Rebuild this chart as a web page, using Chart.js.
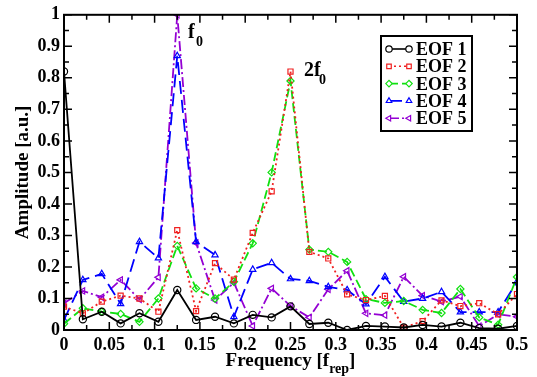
<!DOCTYPE html>
<html lang="en">
<head>
    <meta charset="UTF-8">
    <title>EOF spectra</title>
    <script src="https://cdn.jsdelivr.net/npm/chart.js@4.4.1/dist/chart.umd.min.js"></script>
    <style>
        html, body { margin: 0; padding: 0; background: #fff; }
        #wrap { position: relative; width: 537px; height: 377px; }
    </style>
</head>
<body>
    <div id="wrap">
        <canvas id="eofChart" width="537" height="377"></canvas>
    </div>
    <script>
        // Frequencies in units of f_rep (step 1/48)
        const freqs = [0, 0.0208, 0.0417, 0.0625, 0.0833, 0.1042, 0.125, 0.1458, 0.1667,
                       0.1875, 0.2083, 0.2292, 0.25, 0.2708, 0.2917, 0.3125, 0.3333, 0.3542,
                       0.375, 0.3958, 0.4167, 0.4375, 0.4583, 0.4792, 0.5];

        const eof1 = [0.82, 0.034, 0.058, 0.021, 0.053, 0.026, 0.127, 0.032, 0.042, 0.021, 0.048, 0.040,
                      0.075, 0.019, 0.023, 0.0, 0.013, 0.011, 0.008, 0.016, 0.011, 0.023, 0.006, 0.004, 0.013];
        const eof2 = [0.074, 0.053, 0.09, 0.109, 0.10, 0.058, 0.317, 0.060, 0.212, 0.16, 0.308, 0.44,
                      0.82, 0.248, 0.227, 0.113, 0.095, 0.108, 0.008, 0.028, 0.094, 0.076, 0.085, 0.05, 0.114];
        const eof3 = [0.02, 0.069, 0.058, 0.051, 0.026, 0.10, 0.267, 0.132, 0.10, 0.153, 0.275, 0.50,
                      0.79, 0.255, 0.248, 0.216, 0.098, 0.086, 0.092, 0.064, 0.054, 0.13, 0.04, 0.017, 0.168];
        const eof4 = [0.032, 0.159, 0.178, 0.083, 0.28, 0.228, 0.87, 0.28, 0.238, 0.042, 0.192, 0.213,
                      0.162, 0.156, 0.137, 0.127, 0.082, 0.169, 0.09, 0.10, 0.121, 0.057, 0.057, 0.057, 0.153];
        const eof5 = [0.085, 0.124, 0.104, 0.159, 0.097, 0.167, 1.0, 0.276, 0.095, 0.15, 0.013, 0.132,
                      0.076, 0.04, 0.129, 0.188, 0.053, 0.047, 0.169, 0.109, 0.09, 0.106, 0.012, 0.05, 0.042];

        const xTicks = [0, 0.05, 0.1, 0.15, 0.2, 0.25, 0.3, 0.35, 0.4, 0.45, 0.5];
        const yTicks = [0, 0.1, 0.2, 0.3, 0.4, 0.5, 0.6, 0.7, 0.8, 0.9, 1];

        const serif = '"Liberation Serif", "Times New Roman", serif';

        function pts(vals) {
            return vals.map((v, i) => ({ x: freqs[i], y: v }));
        }

        const series = [
            { label: 'EOF 1', data: eof1, color: '#000000', dash: [], style: 'circle', rot: 0 },
            { label: 'EOF 2', data: eof2, color: '#f02020', dash: [2, 3], style: 'rect', rot: 0 },
            { label: 'EOF 3', data: eof3, color: '#10e010', dash: [9, 4], style: 'rectRot', rot: 0 },
            { label: 'EOF 4', data: eof4, color: '#0000ff', dash: [13, 6], style: 'triangle', rot: 0 },
            { label: 'EOF 5', data: eof5, color: '#9400d3', dash: [10, 3, 2, 3], style: 'triangle', rot: -90 }
        ];

        // frame, inward ticks, axis titles, annotations and legend box
        const decorPlugin = {
            id: 'decor',
            afterDraw(chart) {
                const ctx = chart.ctx;
                const a = chart.chartArea;
                const xs = chart.scales.x, ys = chart.scales.y;
                ctx.save();
                ctx.strokeStyle = '#000';
                ctx.lineWidth = 2;
                ctx.setLineDash([]);
                ctx.strokeRect(a.left, a.top, a.right - a.left, a.bottom - a.top);

                ctx.lineWidth = 1.5;
                ctx.beginPath();
                for (let k = 0; k <= 20; k++) {
                    const px = xs.getPixelForValue(k * 0.025);
                    const len = k % 2 === 0 ? 8 : 5;
                    ctx.moveTo(px, a.bottom); ctx.lineTo(px, a.bottom - len);
                    ctx.moveTo(px, a.top); ctx.lineTo(px, a.top + len);
                }
                for (let k = 0; k <= 20; k++) {
                    const py = ys.getPixelForValue(k * 0.05);
                    const len = k % 2 === 0 ? 8 : 5;
                    ctx.moveTo(a.left, py); ctx.lineTo(a.left + len, py);
                    ctx.moveTo(a.right, py); ctx.lineTo(a.right - len, py);
                }
                ctx.stroke();

                // axis titles
                ctx.fillStyle = '#000';
                ctx.textBaseline = 'alphabetic';
                const main = 'bold 19px ' + serif;
                const sub = 'bold 14px ' + serif;
                ctx.font = main;
                const w1 = ctx.measureText('Frequency [f').width;
                const w3 = ctx.measureText(']').width;
                ctx.font = sub;
                const w2 = ctx.measureText('rep').width;
                let x0 = (a.left + a.right) / 2 - (w1 + w2 + w3) / 2;
                ctx.font = main;
                ctx.fillText('Frequency [f', x0, 366);
                ctx.font = sub;
                ctx.fillText('rep', x0 + w1, 373);
                ctx.font = main;
                ctx.fillText(']', x0 + w1 + w2, 366);

                ctx.save();
                ctx.translate(28, (a.top + a.bottom) / 2);
                ctx.rotate(-Math.PI / 2);
                ctx.textAlign = 'center';
                ctx.fillText('Amplitude [a.u.]', 0, 0);
                ctx.restore();

                // peak labels
                ctx.font = 'bold 20px ' + serif;
                ctx.fillText('f', 188, 38);
                ctx.fillText('2f', 304, 76);
                ctx.font = sub;
                ctx.fillText('0', 196, 46);
                ctx.fillText('0', 319, 84);

                // legend
                const bx = 381, by = 36, bw = 91, bh = 95;
                ctx.fillStyle = '#fff';
                ctx.fillRect(bx, by, bw, bh);
                ctx.lineWidth = 2;
                ctx.strokeStyle = '#000';
                ctx.strokeRect(bx, by, bw, bh);
                chart.data.datasets.forEach((ds, i) => {
                    const cy = by + 13 + i * 17.3;
                    ctx.strokeStyle = ds.borderColor;
                    ctx.lineWidth = 1.6;
                    ctx.setLineDash(ds.borderDash);
                    ctx.beginPath();
                    ctx.moveTo(389, cy); ctx.lineTo(409, cy);
                    ctx.stroke();
                    ctx.setLineDash([]);
                    ctx.lineWidth = 1.2;
                    ctx.fillStyle = '#fff';
                    const opts = { pointStyle: ds.pointStyle, rotation: ds.pointRotation, radius: 3.2, borderWidth: 1.2 };
                    Chart.helpers.drawPoint(ctx, opts, 389, cy);
                    Chart.helpers.drawPoint(ctx, opts, 409, cy);
                    ctx.fillStyle = '#000';
                    ctx.font = 'bold 18px ' + serif;
                    ctx.fillText(ds.label, 416, cy + 6);
                });
                ctx.restore();
            }
        };

        new Chart(document.getElementById('eofChart'), {
            type: 'line',
            data: {
                datasets: series.map(s => ({
                    label: s.label,
                    data: pts(s.data),
                    borderColor: s.color,
                    backgroundColor: 'rgba(0,0,0,0)',
                    borderWidth: 1.8,
                    borderDash: s.dash,
                    pointStyle: s.style,
                    pointRotation: s.rot,
                    pointRadius: 3.6,
                    pointBorderWidth: 1.2,
                    pointBackgroundColor: 'rgba(0,0,0,0)',
                    pointBorderColor: s.color,
                    tension: 0,
                    fill: false
                }))
            },
            options: {
                responsive: false,
                animation: false,
                layout: { padding: { top: 14, right: 20, left: 0, bottom: 0 } },
                plugins: {
                    legend: { display: false },
                    tooltip: { enabled: false }
                },
                scales: {
                    x: {
                        type: 'linear',
                        min: 0, max: 0.5,
                        grid: { display: false, drawTicks: false },
                        border: { display: false },
                        afterBuildTicks: s => { s.ticks = xTicks.map(v => ({ value: v })); },
                        afterFit: s => { s.height = 47; },
                        ticks: {
                            padding: 5,
                            maxRotation: 0,
                            color: '#000',
                            font: { family: serif, size: 18, weight: 'bold' },
                            callback: v => String(Math.round(v * 100) / 100)
                        }
                    },
                    y: {
                        min: 0, max: 1,
                        grid: { display: false, drawTicks: false },
                        border: { display: false },
                        afterBuildTicks: s => { s.ticks = yTicks.map(v => ({ value: v })); },
                        afterFit: s => { s.width = 64; },
                        ticks: {
                            padding: 4,
                            color: '#000',
                            font: { family: serif, size: 18, weight: 'bold' },
                            callback: v => String(Math.round(v * 10) / 10)
                        }
                    }
                }
            },
            plugins: [decorPlugin]
        });
    </script>
</body>
</html>
